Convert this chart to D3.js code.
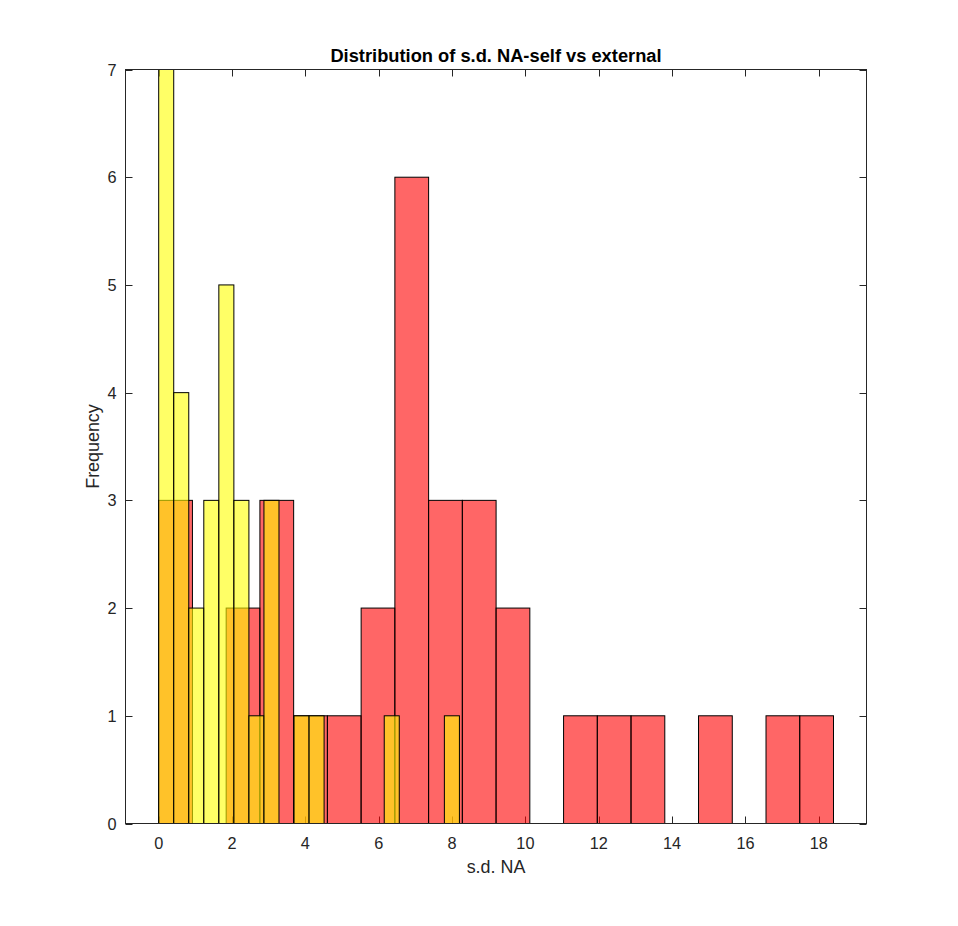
<!DOCTYPE html>
<html>
<head>
<meta charset="utf-8">
<script src="https://cdn.jsdelivr.net/npm/d3@7"></script>
<style>
  html, body { margin: 0; padding: 0; background: #fff; }
  svg { display: block; font-family: "Liberation Sans", Arial, Helvetica, sans-serif; }
</style>
</head>
<body>
<svg id="chart" width="958" height="926"></svg>
<script>
// ---- data ----
const redBinWidth = 0.92;
const redCounts = [3, 0, 2, 3, 1, 1, 2, 6, 3, 3, 2, 0, 1, 1, 1, 0, 1, 0, 1, 1];
const yellowBinWidth = 0.41;
const yellowCounts = [7, 4, 2, 3, 5, 3, 1, 3, 0, 1, 1, 0, 0, 0, 0, 1, 0, 0, 0, 1];
const xTicks = [0, 2, 4, 6, 8, 10, 12, 14, 16, 18];
const yTicks = [0, 1, 2, 3, 4, 5, 6, 7];
const xDomain = [-0.905, 19.3];
const yDomain = [0, 7];
const titleText = "Distribution of s.d. NA-self vs external";
const xLabelText = "s.d. NA";
const yLabelText = "Frequency";

// ---- layout ----
const plotL = 125.5, plotR = 866.5, plotT = 69.5, plotB = 823.5;
const axisColor = "#262626";
const svg = d3.select("#chart");

const x = d3.scaleLinear().domain(xDomain).range([plotL, plotR]);
const y = d3.scaleLinear().domain(yDomain).range([plotB, plotT]);

function bins(counts, w) {
  return counts.map((c, i) => ({ x0: i * w, x1: (i + 1) * w, count: c }));
}

// ticks (under the bars, MATLAB layer bottom)
const tickLen = 7;
const gTicks = svg.append("g").attr("stroke", axisColor).attr("stroke-width", 1);
xTicks.forEach(t => {
  const px = Math.round(x(t)) + 0.5;
  gTicks.append("line").attr("x1", px).attr("x2", px).attr("y1", plotB).attr("y2", plotB - tickLen);
  gTicks.append("line").attr("x1", px).attr("x2", px).attr("y1", plotT).attr("y2", plotT + tickLen);
});
yTicks.forEach(t => {
  const py = Math.round(y(t)) + 0.5;
  gTicks.append("line").attr("x1", plotL).attr("x2", plotL + tickLen).attr("y1", py).attr("y2", py);
  gTicks.append("line").attr("x1", plotR).attr("x2", plotR - tickLen).attr("y1", py).attr("y2", py);
});

// bars
function drawBars(data, fill) {
  svg.append("g").selectAll("rect")
    .data(data.filter(d => d.count > 0))
    .join("rect")
    .attr("x", d => x(d.x0))
    .attr("width", d => x(d.x1) - x(d.x0))
    .attr("y", d => y(d.count))
    .attr("height", d => y(0) - y(d.count))
    .attr("fill", fill)
    .attr("fill-opacity", 0.6)
    .attr("stroke", "#000")
    .attr("stroke-width", 1);
}
drawBars(bins(redCounts, redBinWidth), "#ff0000");
drawBars(bins(yellowCounts, yellowBinWidth), "#ffff00");

// box
svg.append("rect")
  .attr("x", plotL).attr("y", plotT)
  .attr("width", plotR - plotL).attr("height", plotB - plotT)
  .attr("fill", "none").attr("stroke", axisColor).attr("stroke-width", 1);

// tick labels
const gLab = svg.append("g").attr("fill", axisColor).attr("font-size", 16.3);
xTicks.forEach(t => {
  gLab.append("text").attr("x", x(t)).attr("y", 848.5)
    .attr("text-anchor", "middle").text(d3.format("d")(t));
});
yTicks.forEach(t => {
  gLab.append("text").attr("x", plotL - 9).attr("y", y(t) + 6)
    .attr("text-anchor", "end").text(d3.format("d")(t));
});

// title & axis labels
svg.append("text").attr("x", (plotL + plotR) / 2).attr("y", 62)
  .attr("text-anchor", "middle").attr("font-size", 18.3).attr("font-weight", "bold")
  .attr("fill", "#000").text(titleText);
svg.append("text").attr("x", (plotL + plotR) / 2).attr("y", 873)
  .attr("text-anchor", "middle").attr("font-size", 17.9)
  .attr("fill", axisColor).text(xLabelText);
svg.append("text")
  .attr("transform", `translate(99, ${(plotT + plotB) / 2}) rotate(-90)`)
  .attr("text-anchor", "middle").attr("font-size", 17.9)
  .attr("fill", axisColor).text(yLabelText);
</script>
</body>
</html>
